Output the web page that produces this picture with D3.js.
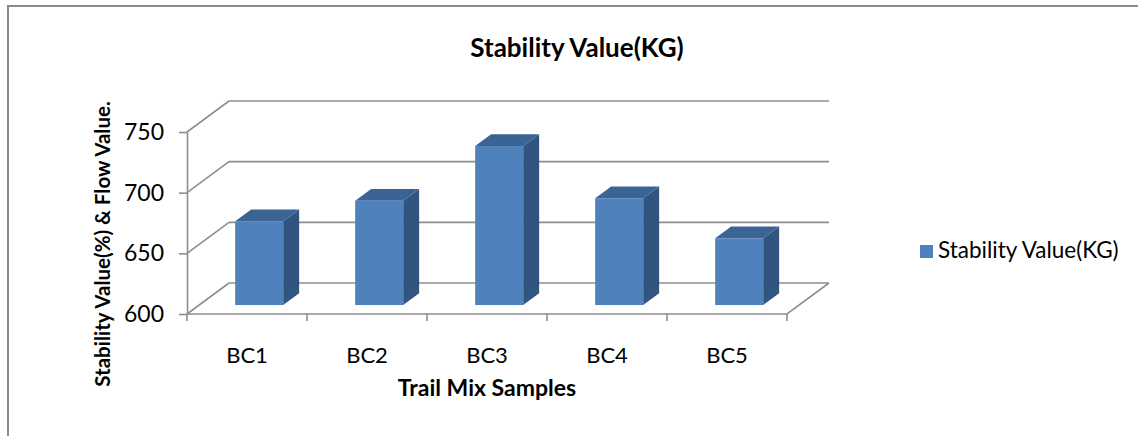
<!DOCTYPE html>
<html>
<head>
<meta charset="utf-8">
<script src="https://cdn.jsdelivr.net/npm/d3@7"></script>
<style>
  body { margin: 0; background: #fff; }
  text { font-family: Lato, "Open Sans", sans-serif; fill: #000; }
</style>
</head>
<body>
<script>
// chart data
let categories = ["BC1", "BC2", "BC3", "BC4", "BC5"];
let stability = [669, 686, 731, 688, 655];
let yTicks = [600, 650, 700, 750];
let seriesName = "Stability Value(KG)";

let width = 1138, height = 436;

// front plane of the 3d box
let plot = {left: 187, right: 787, top: 132, bottom: 314};
// depth of the box (back wall offset)
let depth = {dx: 42, dy: -31};
let barFront = 0.29, barBack = 0.67;

let svg = d3.select("body").append("svg")
  .attr("width", width)
  .attr("height", height);

// outer frame
svg.append("path")
  .attr("d", "M8," + height + " L8,6 L" + width + ",6")
  .attr("fill", "none")
  .attr("stroke", "#8a8a8a")
  .attr("stroke-width", 2);

let x = d3.scaleBand().domain(categories)
  .range([plot.left, plot.right])
  .paddingInner(0.6).paddingOuter(0.3);
let y = d3.scaleLinear().domain([600, 750]).range([plot.bottom, plot.top]);
let dX = d3.scaleLinear().domain([0, 1]).range([0, depth.dx]);
let dY = d3.scaleLinear().domain([0, 1]).range([0, depth.dy]);

let grid = svg.append("g")
  .attr("stroke", "#8e8e8e")
  .attr("stroke-width", 1.6)
  .attr("fill", "none");

// back wall gridlines
grid.selectAll(".back")
  .data(yTicks)
  .enter().append("line")
  .attr("x1", plot.left + dX(1)).attr("x2", plot.right + dX(1))
  .attr("y1", d => y(d) + dY(1)).attr("y2", d => y(d) + dY(1));

// side wall diagonals
grid.selectAll(".side")
  .data(yTicks)
  .enter().append("line")
  .attr("x1", plot.left).attr("x2", plot.left + dX(1))
  .attr("y1", d => y(d)).attr("y2", d => y(d) + dY(1));

// floor front edge + right diagonal
grid.append("path")
  .attr("d", "M" + plot.left + "," + y(600) + " L" + plot.right + "," + y(600) +
    " L" + (plot.right + dX(1)) + "," + (y(600) + dY(1)));

// y axis
let yAxis = d3.axisLeft(y).tickValues(yTicks).tickSize(8).tickSizeOuter(0).tickPadding(15);
let ya = svg.append("g")
  .attr("transform", "translate(" + plot.left + ",0)")
  .call(yAxis);
ya.selectAll("path, line").attr("stroke", "#8e8e8e").attr("stroke-width", 1.6);
ya.selectAll("text").style("font-size", "23px").style("font-family", "Lato");

// x axis ticks at category boundaries
let step = x.step();
let bounds = categories.map(c => x(c) - step * 0.3).concat([plot.right]);
grid.selectAll(".xt")
  .data(bounds)
  .enter().append("line")
  .attr("x1", d => d).attr("x2", d => d)
  .attr("y1", plot.bottom).attr("y2", plot.bottom + 7);

svg.selectAll(".xlab")
  .data(categories)
  .enter().append("text")
  .attr("x", d => x(d) + x.bandwidth() / 2)
  .attr("y", 363)
  .attr("text-anchor", "middle")
  .style("font-size", "22px")
  .text(d => d);

// 3d bars
let bars = svg.selectAll(".bar")
  .data(categories.map((c, i) => ({cat: c, value: stability[i]})))
  .enter().append("g");

function pts(arr) { return arr.map(p => p.join(",")).join(" "); }

bars.each(function(d) {
  let g = d3.select(this);
  let x0 = x(d.cat) + dX(barFront), x1 = x0 + x.bandwidth();
  let yb = y(600) + dY(barFront), yt = y(d.value) + dY(barFront);
  let ox = dX(barBack - barFront), oy = dY(barBack - barFront);
  // side face
  g.append("polygon")
    .attr("points", pts([[x1, yt], [x1 + ox, yt + oy], [x1 + ox, yb + oy], [x1, yb]]))
    .attr("fill", "#31557f");
  // top face
  g.append("polygon")
    .attr("points", pts([[x0, yt], [x0 + ox, yt + oy], [x1 + ox, yt + oy], [x1, yt]]))
    .attr("fill", "#3b6394");
  // front face
  g.append("rect")
    .attr("x", x0).attr("y", yt)
    .attr("width", x1 - x0).attr("height", yb - yt)
    .attr("fill", "#4f81bd");
});

// titles
svg.append("text")
  .attr("x", 577).attr("y", 57)
  .attr("text-anchor", "middle")
  .style("font-size", "26px").style("font-weight", "bold")
  .text("Stability Value(KG)");

svg.append("text")
  .attr("x", 487).attr("y", 396)
  .attr("text-anchor", "middle")
  .style("font-size", "23px").style("font-weight", "bold")
  .text("Trail Mix Samples");

svg.append("text")
  .attr("transform", "translate(110,244) rotate(-90)")
  .attr("text-anchor", "middle")
  .style("font-size", "20.5px").style("font-weight", "bold")
  .text("Stability Value(%) & Flow Value.");

// legend
let legend = svg.append("g").attr("transform", "translate(920,245)");
legend.append("rect")
  .attr("width", 13).attr("height", 13)
  .attr("fill", "#4f81bd");
legend.append("text")
  .attr("x", 18).attr("y", 13)
  .style("font-size", "22.5px")
  .text(seriesName);
</script>
</body>
</html>
